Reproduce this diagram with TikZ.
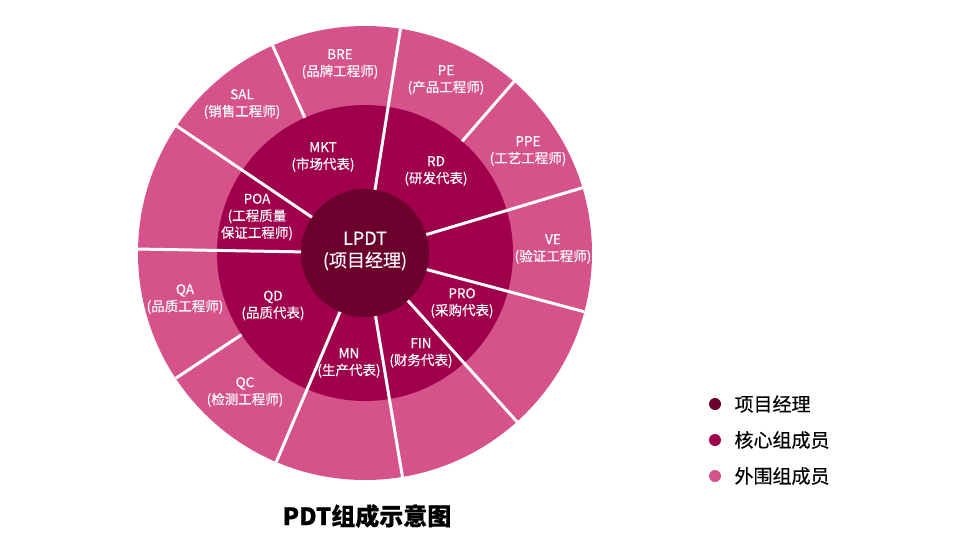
\documentclass[tikz,border=0pt]{standalone}
\usepackage{fontspec}
\setmainfont{Noto Sans CJK SC}[FakeBold=0.4]
\definecolor{pmcolor}{RGB}{108,0,45}
\definecolor{corecolor}{RGB}{160,0,75}
\definecolor{outercolor}{RGB}{214,82,138}

\begin{document}
\begin{tikzpicture}[x=1pt,y=1pt,
  seg/.style={white, line width=3pt},
  lbl/.style={white, align=center, font=\fontsize{13.5}{17}\selectfont},
  key/.style={anchor=west, font=\fontsize{19}{22}\selectfont}]
\useasboundingbox (-365,-297) rectangle (590,253);

\fill[outercolor] (0,0) circle (227);
\fill[corecolor] (0,0) circle (148);
\fill[pmcolor] (0,0) circle (64);

\draw[seg] (81:64)--(81:227);
\draw[seg] (16.7:64)--(16.7:227);
\draw[seg] (-15:64)--(-15:227);
\draw[seg] (-48:64)--(-48:227);
\draw[seg] (-80.5:64)--(-80.5:227);
\draw[seg] (-113:64)--(-113:227);
\draw[seg] (179:64)--(179:227);
\draw[seg] (146:64)--(146:227);

\draw[seg] (114:148)--(114:227);
\draw[seg] (49:148)--(49:227);
\draw[seg] (213.5:148)--(213.5:227);

\node[lbl, font=\fontsize{18}{22}\selectfont] (lpdt) at (0,2) {LPDT\\(项目经理)};

\node[lbl] (mkt) at (-42,96) {MKT\\(市场代表)};
\node[lbl] (rd) at (71,82) {RD\\(研发代表)};
\node[lbl] (poa) at (-108,36) {POA\\(工程质量\\保证工程师)};
\node[lbl] (qd) at (-92,-52.5) {QD\\(品质代表)};
\node[lbl] (mn) at (-16,-110) {MN\\(生产代表)};
\node[lbl] (fin) at (56,-100) {FIN\\(财务代表)};
\node[lbl] (pro) at (97,-50) {PRO\\(采购代表)};

\node[lbl] (bre) at (-25,189) {BRE\\(品牌工程师)};
\node[lbl] (pe) at (81,173) {PE\\(产品工程师)};
\node[lbl] (sal) at (-123,149) {SAL\\(销售工程师)};
\node[lbl] (ppe) at (163,102) {PPE\\(工艺工程师)};
\node[lbl] (ve) at (188,4) {VE\\(验证工程师)};
\node[lbl] (qa) at (-180,-46) {QA\\(品质工程师)};
\node[lbl] (qc) at (-120,-139) {QC\\(检测工程师)};

\fill[pmcolor] (350,-151) circle (6);
\fill[corecolor] (350,-187) circle (6);
\fill[outercolor] (350,-223) circle (6);
\node[key] (keypm) at (366,-151) {项目经理};
\node[key] (keycore) at (366,-187) {核心组成员};
\node[key] (keyouter) at (366,-223) {外围组成员};

\node[font=\fontsize{24}{28}\selectfont\bfseries] (title) at (2,-263) {PDT组成示意图};
\end{tikzpicture}
\end{document}
